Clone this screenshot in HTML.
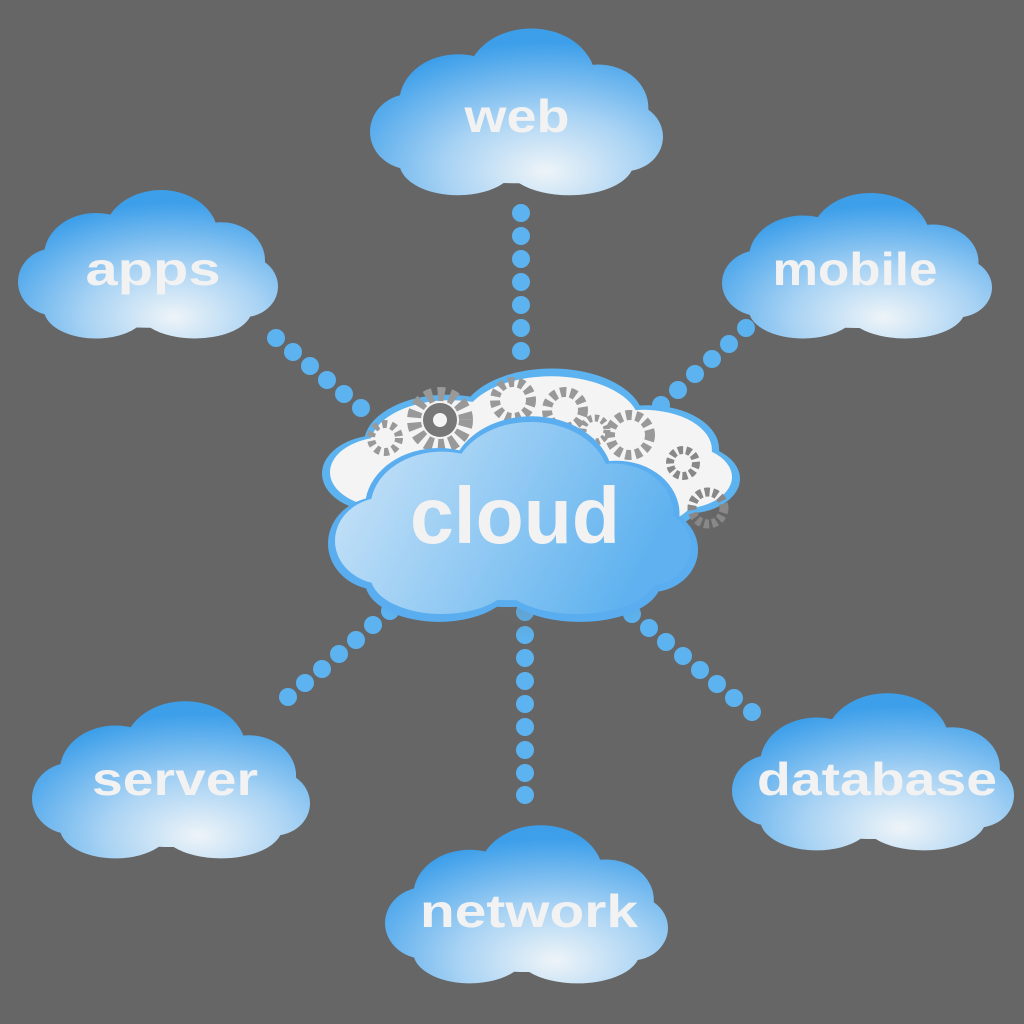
<!DOCTYPE html>
<html><head><style>html,body{margin:0;padding:0;background:#666}svg{display:block}</style></head>
<body>
<svg width="1024" height="1024" viewBox="0 0 1024 1024" xmlns="http://www.w3.org/2000/svg">
<defs>
<clipPath id="cl" clipPathUnits="objectBoundingBox">
<ellipse cx="0.5" cy="0.62" rx="0.42" ry="0.3"/>
<ellipse cx="0.3" cy="0.45" rx="0.2" ry="0.28"/>
<ellipse cx="0.55" cy="0.32" rx="0.22" ry="0.3"/>
<ellipse cx="0.78" cy="0.48" rx="0.17" ry="0.25"/>
<ellipse cx="0.14" cy="0.62" rx="0.14" ry="0.22"/>
<ellipse cx="0.87" cy="0.65" rx="0.13" ry="0.2"/>
<ellipse cx="0.3" cy="0.8" rx="0.2" ry="0.19"/>
<ellipse cx="0.68" cy="0.8" rx="0.22" ry="0.19"/>
</clipPath>
<radialGradient id="g1" cx="0.6" cy="0.85" r="0.75">
<stop offset="0" stop-color="#eef4f8"/><stop offset="0.45" stop-color="#a9d3f4"/><stop offset="1" stop-color="#3d9fea"/>
</radialGradient>
<linearGradient id="g2" x1="0" y1="0" x2="1" y2="0.3">
<stop offset="0" stop-color="#cfe6f8"/><stop offset="1" stop-color="#5fb2ef"/>
</linearGradient>
<radialGradient id="glow" cx="0.5" cy="0.5" r="0.5">
<stop offset="0" stop-color="#8a8a8a"/><stop offset="1" stop-color="#666" stop-opacity="0"/>
</radialGradient>
</defs>
<rect width="1024" height="1024" fill="#666"/>
<g fill="#5db3ef">
<circle cx="521" cy="213" r="9"/><circle cx="521" cy="236" r="9"/><circle cx="521" cy="259" r="9"/><circle cx="521" cy="282" r="9"/><circle cx="521" cy="305" r="9"/><circle cx="521" cy="328" r="9"/><circle cx="521" cy="351" r="9"/>
<circle cx="276" cy="338" r="9"/><circle cx="293" cy="352" r="9"/><circle cx="310" cy="366" r="9"/><circle cx="327" cy="380" r="9"/><circle cx="344" cy="394" r="9"/><circle cx="361" cy="408" r="9"/>
<circle cx="746" cy="328" r="9"/><circle cx="729" cy="344" r="9"/><circle cx="712" cy="359" r="9"/><circle cx="695" cy="374" r="9"/><circle cx="678" cy="390" r="9"/><circle cx="661" cy="405" r="9"/>
<circle cx="288" cy="697" r="9"/><circle cx="305" cy="683" r="9"/><circle cx="322" cy="669" r="9"/><circle cx="339" cy="654" r="9"/><circle cx="356" cy="640" r="9"/><circle cx="373" cy="625" r="9"/><circle cx="390" cy="611" r="9"/><circle cx="408" cy="596" r="9"/>
<circle cx="525" cy="612" r="9"/><circle cx="525" cy="635" r="9"/><circle cx="525" cy="658" r="9"/><circle cx="525" cy="681" r="9"/><circle cx="525" cy="704" r="9"/><circle cx="525" cy="727" r="9"/><circle cx="525" cy="750" r="9"/><circle cx="525" cy="773" r="9"/><circle cx="525" cy="795" r="9"/>
<circle cx="615" cy="600" r="9"/><circle cx="632" cy="614" r="9"/><circle cx="649" cy="628" r="9"/><circle cx="666" cy="642" r="9"/><circle cx="683" cy="656" r="9"/><circle cx="700" cy="670" r="9"/><circle cx="717" cy="684" r="9"/><circle cx="734" cy="698" r="9"/><circle cx="752" cy="712" r="9"/>
</g>
<!-- outer clouds -->
<rect x="370" y="25" width="293" height="172" fill="url(#g1)" clip-path="url(#cl)"/>
<rect x="18" y="187" width="260" height="153" fill="url(#g1)" clip-path="url(#cl)"/>
<rect x="722" y="190" width="270" height="150" fill="url(#g1)" clip-path="url(#cl)"/>
<rect x="32" y="698" width="278" height="162" fill="url(#g1)" clip-path="url(#cl)"/>
<rect x="732" y="690" width="282" height="162" fill="url(#g1)" clip-path="url(#cl)"/>
<rect x="385" y="822" width="283" height="163" fill="url(#g1)" clip-path="url(#cl)"/>
<!-- center -->
<rect x="300" y="380" width="440" height="260" fill="url(#glow)"/>
<rect x="322" y="365" width="418" height="175" fill="#5db3ef" clip-path="url(#cl)"/>
<rect x="330" y="373" width="402" height="160" fill="#f4f4f4" clip-path="url(#cl)"/>
<g fill="none" stroke="#999">
<circle cx="440" cy="420" r="26" stroke-width="14" stroke-dasharray="7 5"/>
<circle cx="440" cy="420" r="12" stroke="#777" stroke-width="10"/>
<circle cx="513" cy="400" r="18" stroke-width="10" stroke-dasharray="6 4"/>
<circle cx="385" cy="438" r="14" stroke-width="8" stroke-dasharray="5 4"/>
<circle cx="565" cy="410" r="18" stroke-width="10" stroke-dasharray="6 4"/>
<circle cx="630" cy="435" r="20" stroke-width="10" stroke-dasharray="6 4"/>
<circle cx="683" cy="463" r="13" stroke="#888" stroke-width="8" stroke-dasharray="5 3"/>
<circle cx="708" cy="508" r="16" stroke="#888" stroke-width="9" stroke-dasharray="5 3"/>
<circle cx="595" cy="430" r="12" stroke-width="7" stroke-dasharray="4 3"/>
</g>
<rect x="328" y="412" width="370" height="212" fill="#5aaef0" clip-path="url(#cl)"/>
<rect x="335" y="418" width="356" height="198" fill="url(#g2)" clip-path="url(#cl)"/>
<g font-family="Liberation Sans, sans-serif" font-weight="bold" fill="#f2f2f2" text-anchor="middle">
<text x="517" y="132" font-size="46" textLength="105" lengthAdjust="spacingAndGlyphs">web</text>
<text x="153" y="285" font-size="46" textLength="135" lengthAdjust="spacingAndGlyphs">apps</text>
<text x="855" y="285" font-size="46" textLength="165" lengthAdjust="spacingAndGlyphs">mobile</text>
<text x="175" y="795" font-size="46" textLength="166" lengthAdjust="spacingAndGlyphs">server</text>
<text x="877" y="795" font-size="46" textLength="240" lengthAdjust="spacingAndGlyphs">database</text>
<text x="529" y="927" font-size="46" textLength="218" lengthAdjust="spacingAndGlyphs">network</text>
<text x="515" y="543" font-size="80" textLength="210" lengthAdjust="spacingAndGlyphs">cloud</text>
</g>
</svg>
</body></html>
